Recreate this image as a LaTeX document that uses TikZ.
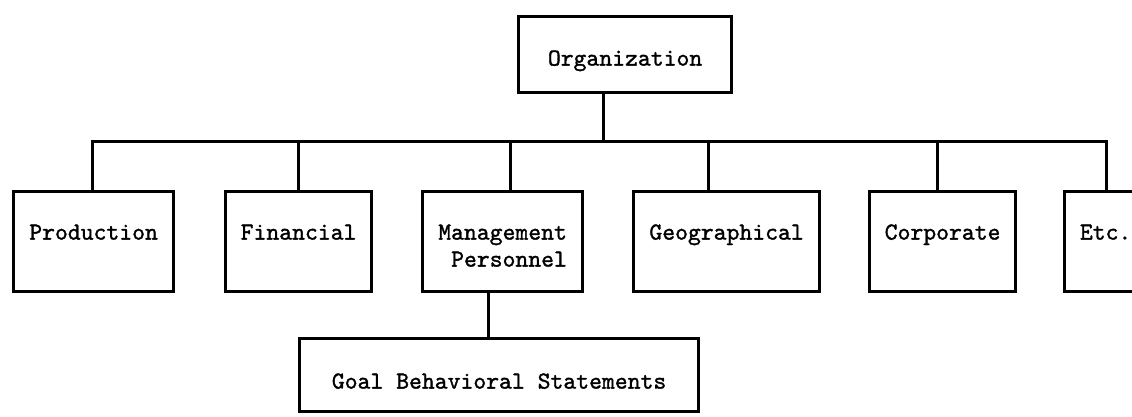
\documentclass[tikz,border=0pt]{standalone}
\usepackage{fontspec}
\newfontfamily\twfont{lmmono10-regular.otf}[FakeBold=1.3]
\begin{document}
\begin{tikzpicture}[x=1pt,y=-1pt,
  box/.style={draw, line width=3.2pt, inner sep=0pt, anchor=north west,
    font=\twfont\fontsize{24.5}{27}\selectfont},
  child/.style={box, text height=48pt, text depth=52pt},
  conn/.style={line width=3pt, line join=miter}]
\useasboundingbox (0,0) rectangle (1132,416);
\clip (0,0) rectangle (1132,416);
% boxes
\node[box, minimum width=213pt, text height=49pt, text depth=27pt] (org) at (517,15) {Organization};
\node[child, minimum width=160pt] (prod) at (12,190) {Production};
\node[child, minimum width=146pt] (fin)  at (224,190) {Financial};
\node[child, minimum width=160pt] (mgmt) at (421,190) {\begin{tabular}[t]{@{}r@{}}Management\\Personnel\end{tabular}};
\node[child, minimum width=186pt] (geo)  at (632,190) {Geographical};
\node[child, minimum width=146pt] (corp) at (868,190) {Corporate};
\node[child, minimum width=82pt]  (etc)  at (1063,190) {Etc.};
\node[box, minimum width=399pt, text height=50pt, text depth=23pt] (goal) at (298,337) {Goal Behavioral Statements};
% junctions on the bar
\coordinate (b0) at (603,141);
\coordinate (b1) at (92,141);
\coordinate (b2) at (298,141);
\coordinate (b3) at (510,141);
\coordinate (b4) at (708,141);
\coordinate (b5) at (937,141);
\coordinate (b6) at (1106,141);
\coordinate (g0) at (488,0);
% connectors
\draw[conn] (b1 |- prod.north) -- (b1) -- (b6) -- (b6 |- etc.north);
\draw[conn] (b0 |- org.south) -- (b0);
\draw[conn] (b2) -- (b2 |- fin.north);
\draw[conn] (b3) -- (b3 |- mgmt.north);
\draw[conn] (b4) -- (b4 |- geo.north);
\draw[conn] (b5) -- (b5 |- corp.north);
\draw[conn] (g0 |- mgmt.south) -- (g0 |- goal.north);
\end{tikzpicture}
\end{document}
